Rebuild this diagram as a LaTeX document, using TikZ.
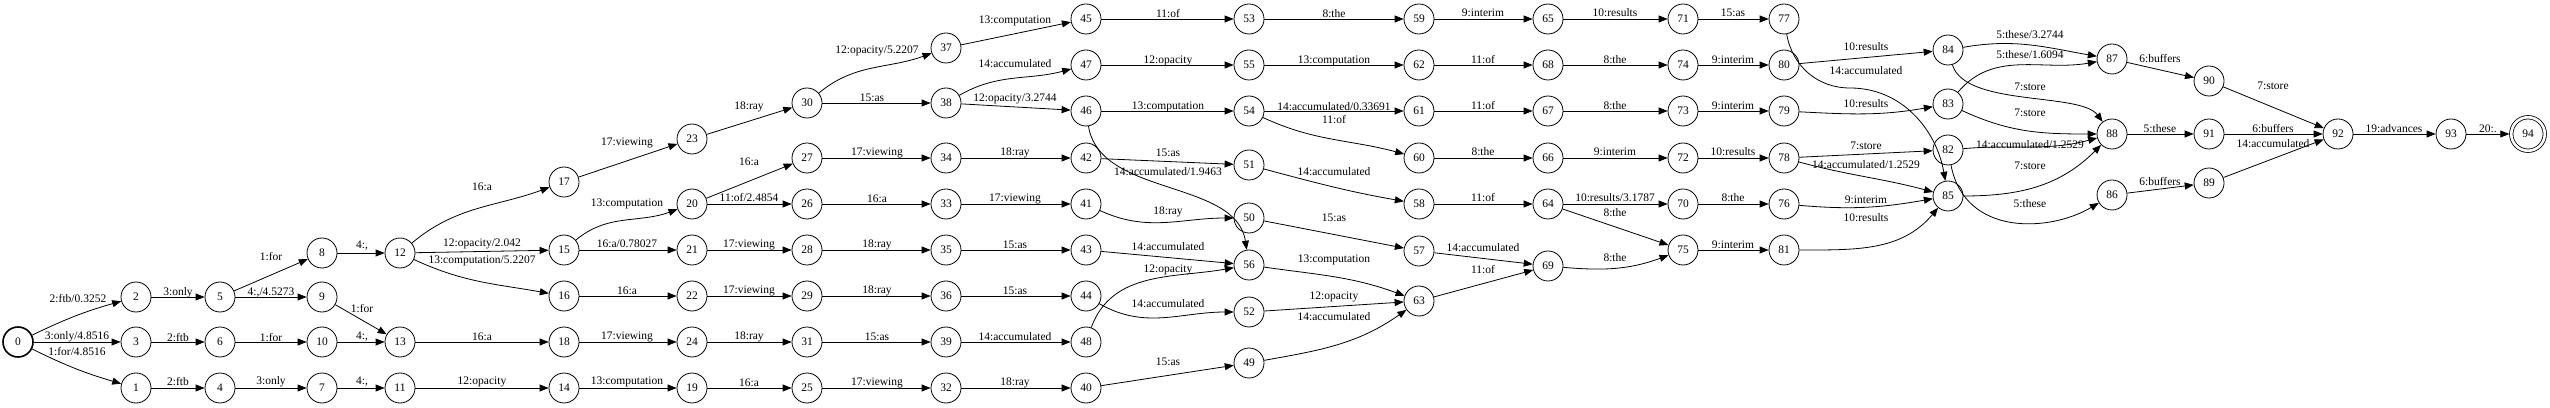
\documentclass[tikz,border=0pt]{standalone}
\usepackage{fontspec}
\setmainfont{Liberation Serif}
\usetikzlibrary{arrows.meta}
\begin{document}
\begin{tikzpicture}[x=1pt,y=1pt,font=\fontsize{11.5}{13}\selectfont,
  st/.style={circle,draw,line width=0.8pt,minimum size=30pt,inner sep=0pt},
  ini/.style={st,line width=1.6pt},
  fin/.style={st,double,double distance=2.6pt,minimum size=33.5pt,outer sep=2pt},
  tr/.style={draw,line width=0.8pt,-{Triangle[length=9pt,width=7pt]}},
  lab/.style={inner sep=0pt}]
\useasboundingbox (0,0) rectangle (2550,407);

%states
\node[ini] (s0) at (18,65) {0};
\node[st] (s1) at (136,19) {1};
\node[st] (s2) at (136,110) {2};
\node[st] (s3) at (136,65) {3};
\node[st] (s4) at (220,19) {4};
\node[st] (s5) at (220,110) {5};
\node[st] (s6) at (220,65) {6};
\node[st] (s7) at (322,19) {7};
\node[st] (s8) at (322,154) {8};
\node[st] (s9) at (322,110) {9};
\node[st] (s10) at (322,65) {10};
\node[st] (s11) at (400,19) {11};
\node[st] (s12) at (400,154) {12};
\node[st] (s13) at (400,65) {13};
\node[st] (s14) at (564,19) {14};
\node[st] (s15) at (564,157) {15};
\node[st] (s16) at (564,111) {16};
\node[st] (s17) at (564,225) {17};
\node[st] (s18) at (564,65) {18};
\node[st] (s19) at (692,19) {19};
\node[st] (s20) at (692,203) {20};
\node[st] (s21) at (692,157) {21};
\node[st] (s22) at (692,111) {22};
\node[st] (s23) at (692,268) {23};
\node[st] (s24) at (692,65) {24};
\node[st] (s25) at (807,19) {25};
\node[st] (s26) at (807,203) {26};
\node[st] (s27) at (807,249) {27};
\node[st] (s28) at (807,157) {28};
\node[st] (s29) at (807,111) {29};
\node[st] (s30) at (807,304) {30};
\node[st] (s31) at (807,65) {31};
\node[st] (s32) at (946,19) {32};
\node[st] (s33) at (946,203) {33};
\node[st] (s34) at (946,249) {34};
\node[st] (s35) at (946,157) {35};
\node[st] (s36) at (946,111) {36};
\node[st] (s37) at (946,359) {37};
\node[st] (s38) at (946,304) {38};
\node[st] (s39) at (946,65) {39};
\node[st] (s40) at (1086,19) {40};
\node[st] (s41) at (1086,203) {41};
\node[st] (s42) at (1086,249) {42};
\node[st] (s43) at (1086,157) {43};
\node[st] (s44) at (1086,111) {44};
\node[st] (s45) at (1086,388) {45};
\node[st] (s46) at (1086,296) {46};
\node[st] (s47) at (1086,342) {47};
\node[st] (s48) at (1086,65) {48};
\node[st] (s49) at (1249,44) {49};
\node[st] (s50) at (1249,189) {50};
\node[st] (s51) at (1249,242) {51};
\node[st] (s52) at (1249,95) {52};
\node[st] (s53) at (1249,388) {53};
\node[st] (s54) at (1249,296) {54};
\node[st] (s55) at (1249,342) {55};
\node[st] (s56) at (1249,142) {56};
\node[st] (s57) at (1419,156) {57};
\node[st] (s58) at (1419,203) {58};
\node[st] (s59) at (1419,388) {59};
\node[st] (s60) at (1419,249) {60};
\node[st] (s61) at (1419,296) {61};
\node[st] (s62) at (1419,342) {62};
\node[st] (s63) at (1419,106) {63};
\node[st] (s64) at (1548,203) {64};
\node[st] (s65) at (1548,388) {65};
\node[st] (s66) at (1548,249) {66};
\node[st] (s67) at (1548,296) {67};
\node[st] (s68) at (1548,342) {68};
\node[st] (s69) at (1548,141) {69};
\node[st] (s70) at (1683,203) {70};
\node[st] (s71) at (1683,388) {71};
\node[st] (s72) at (1683,249) {72};
\node[st] (s73) at (1683,296) {73};
\node[st] (s74) at (1683,342) {74};
\node[st] (s75) at (1683,157) {75};
\node[st] (s76) at (1784,203) {76};
\node[st] (s77) at (1784,388) {77};
\node[st] (s78) at (1784,249) {78};
\node[st] (s79) at (1784,296) {79};
\node[st] (s80) at (1784,342) {80};
\node[st] (s81) at (1784,157) {81};
\node[st] (s82) at (1948,257) {82};
\node[st] (s83) at (1948,303) {83};
\node[st] (s84) at (1948,357) {84};
\node[st] (s85) at (1948,211) {85};
\node[st] (s86) at (2112,212) {86};
\node[st] (s87) at (2112,348) {87};
\node[st] (s88) at (2112,273) {88};
\node[st] (s89) at (2209,224) {89};
\node[st] (s90) at (2209,326) {90};
\node[st] (s91) at (2209,273) {91};
\node[st] (s92) at (2338,273) {92};
\node[st] (s93) at (2451,273) {93};
\node[fin] (s94) at (2528,273) {94};

%transitions
\draw[tr] (s0) to[bend left=5] (s2) node[lab] at (78,108) {2:ftb/0.3252};
\draw[tr] (s0) -- (s3) node[lab] at (77,70) {3:only/4.8516};
\draw[tr] (s0) to[bend right=5] (s1) node[lab] at (77,55) {1:for/4.8516};
\draw[tr] (s2) -- (s5) node[lab] at (178,114) {3:only};
\draw[tr] (s3) -- (s6) node[lab] at (178,69) {2:ftb};
\draw[tr] (s1) -- (s4) node[lab] at (178,25) {2:ftb};
\draw[tr] (s5) -- (s8) node[lab] at (271,150) {1:for};
\draw[tr] (s5) -- (s9) node[lab] at (271,114) {4:,/4.5273};
\draw[tr] (s6) -- (s10) node[lab] at (271,69) {1:for};
\draw[tr] (s4) -- (s7) node[lab] at (271,25) {3:only};
\draw[tr] (s8) -- (s12) node[lab] at (362,161) {4:,};
\draw[tr] (s9) -- (s13) node[lab] at (362,98) {1:for};
\draw[tr] (s10) -- (s13) node[lab] at (362,70) {4:,};
\draw[tr] (s7) -- (s11) node[lab] at (362,25) {4:,};

\draw[tr] (s12) to[out=40,in=200] (s17) node[lab] at (482,220) {16:a};
\draw[tr] (s12) -- (s15) node[lab] at (482,163) {12:opacity/2.042};
\draw[tr] (s12) to[out=-25,in=170] (s16) node[lab] at (482,146) {13:computation/5.2207};
\draw[tr] (s13) -- (s18) node[lab] at (482,70) {16:a};
\draw[tr] (s11) -- (s14) node[lab] at (482,25) {12:opacity};
\draw[tr] (s17) -- (s23) node[lab] at (627,264) {17:viewing};
\draw[tr] (s15) to[out=40,in=200] (s20) node[lab] at (627,203) {13:computation};
\draw[tr] (s15) -- (s21) node[lab] at (627,163) {16:a/0.78027};
\draw[tr] (s16) -- (s22) node[lab] at (627,116) {16:a};
\draw[tr] (s18) -- (s24) node[lab] at (627,70) {17:viewing};
\draw[tr] (s14) -- (s19) node[lab] at (627,25) {13:computation};

\draw[tr] (s23) -- (s30) node[lab] at (749,300) {18:ray};
\draw[tr] (s20) -- (s27) node[lab] at (749,245) {16:a};
\draw[tr] (s20) -- (s26) node[lab] at (749,209) {11:of/2.4854};
\draw[tr] (s21) -- (s28) node[lab] at (749,162) {17:viewing};
\draw[tr] (s22) -- (s29) node[lab] at (749,116) {17:viewing};
\draw[tr] (s24) -- (s31) node[lab] at (749,70) {18:ray};
\draw[tr] (s19) -- (s25) node[lab] at (749,24) {16:a};
\draw[tr] (s30) to[out=40,in=200] (s37) node[lab] at (877,356) {12:opacity/5.2207};
\draw[tr] (s30) -- (s38) node[lab] at (872,309) {15:as};
\draw[tr] (s27) -- (s34) node[lab] at (877,254) {17:viewing};
\draw[tr] (s26) -- (s33) node[lab] at (877,208) {16:a};
\draw[tr] (s28) -- (s35) node[lab] at (877,162) {18:ray};
\draw[tr] (s29) -- (s36) node[lab] at (877,116) {18:ray};
\draw[tr] (s31) -- (s39) node[lab] at (877,70) {15:as};
\draw[tr] (s25) -- (s32) node[lab] at (877,24) {17:viewing};

\draw[tr] (s37) -- (s45) node[lab] at (1015,386) {13:computation};
\draw[tr] (s38) to[out=30,in=195] (s47) node[lab] at (1015,343) {14:accumulated};
\draw[tr] (s38) -- (s46) node[lab] at (1015,308) {12:opacity/3.2744};
\draw[tr] (s34) -- (s42) node[lab] at (1015,254) {18:ray};
\draw[tr] (s33) -- (s41) node[lab] at (1015,208) {17:viewing};
\draw[tr] (s35) -- (s43) node[lab] at (1015,162) {15:as};
\draw[tr] (s36) -- (s44) node[lab] at (1015,116) {15:as};
\draw[tr] (s39) -- (s48) node[lab] at (1015,70) {14:accumulated};
\draw[tr] (s32) -- (s40) node[lab] at (1015,24) {18:ray};

\draw[tr] (s45) -- (s53) node[lab] at (1168,393) {11:of};
\draw[tr] (s47) -- (s55) node[lab] at (1168,346) {12:opacity};
\draw[tr] (s46) -- (s54) node[lab] at (1168,300) {13:computation};
\draw[tr] (s46) .. controls (1100,210) and (1236,228) .. (s56) node[lab] at (1168,235) {14:accumulated/1.9463};
\draw[tr] (s42) -- (s51) node[lab] at (1168,254) {15:as};
\draw[tr] (s41) to[out=-25,in=180] (s50) node[lab] at (1168,195) {18:ray};
\draw[tr] (s43) -- (s56) node[lab] at (1168,160) {14:accumulated};
\draw[tr] (s48) to[out=70,in=190] (s56) node[lab] at (1168,137) {12:opacity};
\draw[tr] (s44) to[out=-30,in=180] (s52) node[lab] at (1168,103) {14:accumulated};
\draw[tr] (s40) -- (s49) node[lab] at (1168,45) {15:as};

\draw[tr] (s53) -- (s59) node[lab] at (1334,393) {8:the};
\draw[tr] (s55) -- (s62) node[lab] at (1334,346) {13:computation};
\draw[tr] (s54) -- (s61) node[lab] at (1334,300) {14:accumulated/0.33691};
\draw[tr] (s54) to[out=-25,in=165] (s60) node[lab] at (1334,287) {11:of};
\draw[tr] (s51) to[out=-15,in=170] (s58) node[lab] at (1334,235) {14:accumulated};
\draw[tr] (s50) -- (s57) node[lab] at (1334,189) {15:as};
\draw[tr] (s56) to[out=-8,in=160] (s63) node[lab] at (1334,147) {13:computation};
\draw[tr] (s52) -- (s63) node[lab] at (1334,110) {12:opacity};
\draw[tr] (s49) to[out=10,in=215] (s63) node[lab] at (1334,90) {14:accumulated};

\draw[tr] (s59) -- (s65) node[lab] at (1483,394) {9:interim};
\draw[tr] (s62) -- (s68) node[lab] at (1483,347) {11:of};
\draw[tr] (s61) -- (s67) node[lab] at (1483,301) {11:of};
\draw[tr] (s60) -- (s66) node[lab] at (1483,255) {8:the};
\draw[tr] (s58) -- (s64) node[lab] at (1483,209) {11:of};
\draw[tr] (s57) -- (s69) node[lab] at (1483,159) {14:accumulated};
\draw[tr] (s63) -- (s69) node[lab] at (1483,137) {11:of};
\draw[tr] (s65) -- (s71) node[lab] at (1615,394) {10:results};
\draw[tr] (s68) -- (s74) node[lab] at (1615,347) {8:the};
\draw[tr] (s67) -- (s73) node[lab] at (1615,301) {8:the};
\draw[tr] (s66) -- (s72) node[lab] at (1615,255) {9:interim};
\draw[tr] (s64) -- (s70) node[lab] at (1615,209) {10:results/3.1787};
\draw[tr] (s64) -- (s75) node[lab] at (1615,194) {8:the};
\draw[tr] (s69) to[out=-5,in=200] (s75) node[lab] at (1615,149) {8:the};

\draw[tr] (s71) -- (s77) node[lab] at (1733,394) {15:as};
\draw[tr] (s74) -- (s80) node[lab] at (1733,347) {9:interim};
\draw[tr] (s73) -- (s79) node[lab] at (1733,301) {9:interim};
\draw[tr] (s72) -- (s78) node[lab] at (1733,255) {10:results};
\draw[tr] (s70) -- (s76) node[lab] at (1733,209) {8:the};
\draw[tr] (s75) -- (s81) node[lab] at (1733,162) {9:interim};

\draw[tr] (s80) -- (s84) node[lab] at (1866,360) {10:results};
\draw[tr] (s77) to[out=-80,in=180] (1850,319) to[out=0,in=100] (s85) node[lab] at (1866,336) {14:accumulated};
\draw[tr] (s79) to[out=-3,in=190] (s83) node[lab] at (1866,303) {10:results};
\draw[tr] (s78) -- (s82) node[lab] at (1866,261) {7:store};
\draw[tr] (s78) to[out=-15,in=165] (s85) node[lab] at (1866,242) {14:accumulated/1.2529};
\draw[tr] (s76) to[out=-5,in=190] (s85) node[lab] at (1866,207) {9:interim};
\draw[tr] (s81) to[out=0,in=230] (s85) node[lab] at (1866,189) {10:results};

\draw[tr] (s84) to[out=10,in=170] (s87) node[lab] at (2030,372) {5:these/3.2744};
\draw[tr] (s83) to[out=50,in=190] (s87) node[lab] at (2030,352) {5:these/1.6094};
\draw[tr] (s84) .. controls (1965,300) and (2080,315) .. (s88) node[lab] at (2030,320) {7:store};
\draw[tr] (s83) to[out=-25,in=180] (s88) node[lab] at (2030,294) {7:store};
\draw[tr] (s82) to[out=5,in=195] (s88) node[lab] at (2030,262) {14:accumulated/1.2529};
\draw[tr] (s85) to[out=0,in=225] (s88) node[lab] at (2030,241) {7:store};
\draw[tr] (s82) .. controls (1965,170) and (2050,175) .. (s86) node[lab] at (2030,203) {5:these};

\draw[tr] (s87) -- (s90) node[lab] at (2160,348) {6:buffers};
\draw[tr] (s88) -- (s91) node[lab] at (2160,278) {5:these};
\draw[tr] (s86) -- (s89) node[lab] at (2160,225) {6:buffers};
\draw[tr] (s90) -- (s92) node[lab] at (2273,321) {7:store};
\draw[tr] (s91) -- (s92) node[lab] at (2273,278) {6:buffers};
\draw[tr] (s89) -- (s92) node[lab] at (2273,263) {14:accumulated};
\draw[tr] (s92) -- (s93) node[lab] at (2394,278) {19:advances};
\draw[tr] (s93) -- (s94) node[lab] at (2488,278) {20:.};

\end{tikzpicture}
\end{document}
